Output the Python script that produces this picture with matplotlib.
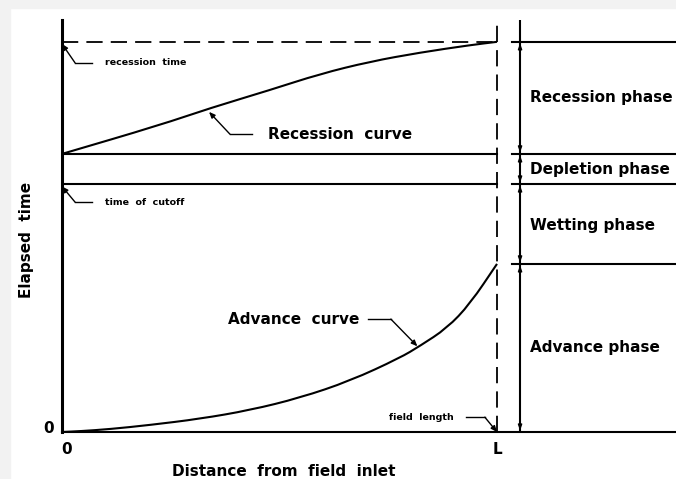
import matplotlib
matplotlib.use("Agg")
import matplotlib.pyplot as plt
from matplotlib.patches import Rectangle, PathPatch
from matplotlib.path import Path
from matplotlib.transforms import ScaledTranslation

# Distance along the field as a fraction of field length L, time in relative units (0-100)
advance_x = [0.0, 0.041, 0.110, 0.202, 0.317, 0.432, 0.547, 0.662, 0.777, 0.823,
             0.885, 0.938, 1.0]
advance_t = [0.0, 0.2, 0.7, 1.7, 3.2, 5.3, 8.3, 12.4, 18.0, 20.9, 25.2, 31.1, 40.8]

recession_x = [0.0, 0.225, 0.340, 0.478, 0.593, 0.708, 0.823, 0.938, 1.0]
recession_t = [67.5, 74.5, 78.6, 83.0, 86.9, 89.9, 92.1, 93.9, 94.7]

t_advance_end = 40.8
t_cutoff = 60.2
t_depletion = 67.5
t_recession = 94.7

phase_labels = ["Recession phase", "Depletion phase", "Wetting phase", "Advance phase"]
phase_text_t = [81.1, 63.6, 50.2, 20.4]
phase_bounds = [(t_depletion, t_recession), (t_cutoff, t_depletion),
                (t_advance_end, t_cutoff), (0.0, t_advance_end)]

x_ticks = [0.0, 1.0]
x_tick_labels = ["0", "L"]

W, H = 676, 479
fig = plt.figure(figsize=(W / 100, H / 100), dpi=100)
fig.patch.set_facecolor("white")
# pale frame strips along top and left
fig.patches.append(Rectangle((0, 1 - 8 / H), 1, 8 / H, transform=fig.transFigure,
                             color="#f2f2f2", zorder=0))
fig.patches.append(Rectangle((0, 0), 10 / W, 1, transform=fig.transFigure,
                             color="#f2f2f2", zorder=0))

x0, x1 = 62, 676
y0, y1 = 432, 20
ax = fig.add_axes([x0 / W, (H - y0) / H, (x1 - x0) / W, (y0 - y1) / H])
ax.patch.set_alpha(0)
xmax = (x1 - x0) / 435.0
ax.set_xlim(0, xmax)
ax.set_ylim(0, 100)
for s in ["top", "right"]:
    ax.spines[s].set_visible(False)
ax.spines["left"].set_linewidth(2.2)
ax.spines["bottom"].set_linewidth(1.5)
ax.tick_params(length=0, pad=7)
ax.set_xticks(x_ticks)
ax.set_xticklabels(x_tick_labels)
ax.set_yticks([0])
ax.set_yticklabels(["0"])
for lab in ax.get_xticklabels() + ax.get_yticklabels():
    lab.set_fontsize(11)
    lab.set_fontweight("bold")
xl0 = ax.get_xticklabels()[0]
xl0.set_transform(xl0.get_transform() + ScaledTranslation(5 / 100, 0, fig.dpi_scale_trans))
yl0 = ax.get_yticklabels()[0]
yl0.set_transform(yl0.get_transform() + ScaledTranslation(2 / 100, 5 / 100, fig.dpi_scale_trans))

lw = 1.5
k = "black"


def smooth_curve(xs, ys, **kw):
    """Draw a line through the points, rounding the corners with quadratic segments."""
    pts = list(zip(xs, ys))
    verts = [pts[0]]
    codes = [Path.MOVETO]
    mids = [((a[0] + b[0]) / 2, (a[1] + b[1]) / 2) for a, b in zip(pts[:-1], pts[1:])]
    verts.append(mids[0])
    codes.append(Path.LINETO)
    for i in range(1, len(pts) - 1):
        verts += [pts[i], mids[i]]
        codes += [Path.CURVE3, Path.CURVE3]
    verts.append(pts[-1])
    codes.append(Path.LINETO)
    ax.add_patch(PathPatch(Path(verts, codes), fill=False, **kw))


# curves
smooth_curve(advance_x, advance_t, edgecolor=k, lw=lw)
smooth_curve(recession_x, recession_t, edgecolor=k, lw=lw)

# horizontal reference lines in the field region
ax.plot([0, 1], [t_recession, t_recession], color=k, lw=1.3, ls=(0, (9, 4.5)))
ax.plot([0, 1], [t_depletion, t_depletion], color=k, lw=lw)
ax.plot([0, 1], [t_cutoff, t_cutoff], color=k, lw=lw)
# field end (dashed vertical)
ax.plot([1, 1], [0, 100], color=k, lw=1.3, ls=(0, (9, 4.5)))

# phase column on the right
xr = 1.053
xr0 = 1.034
ax.plot([xr, xr], [0, 100], color=k, lw=lw)
for t in [t_recession, t_depletion, t_cutoff, t_advance_end]:
    ax.plot([xr0, xmax], [t, t], color=k, lw=lw)
for (lo, hi) in phase_bounds:
    ax.annotate("", xy=(xr, hi - 0.3), xytext=(xr, lo + 0.3),
                arrowprops=dict(arrowstyle="<|-|>,head_length=0.35,head_width=0.12",
                                color=k, lw=0.9, shrinkA=0, shrinkB=0))
for lab, t in zip(phase_labels, phase_text_t):
    ax.text(1.076, t, lab, fontsize=11, fontweight="bold", va="center", ha="left")

big = dict(fontsize=11, fontweight="bold", va="center")
small = dict(fontsize=6.8, fontweight="bold", va="center")
arrow = dict(arrowstyle="-|>,head_length=0.35,head_width=0.15", color=k, lw=1.0,
             shrinkA=0, shrinkB=0)


def leader(text_xy, text, h_from, h_to, tip, style, ha="left"):
    ax.text(text_xy[0], text_xy[1], text, ha=ha, **style)
    ax.plot([h_from, h_to], [text_xy[1], text_xy[1]], color=k, lw=1.0)
    ax.annotate("", xy=tip, xytext=(h_from if tip[0] < h_from else h_to, text_xy[1]),
                arrowprops=arrow)


leader((0.099, 89.6), "recession  time", 0.030, 0.069, (0.0, 94.2), small)
leader((0.099, 55.8), "time  of  cutoff", 0.030, 0.069, (0.0, 59.6), small)
leader((0.474, 72.3), "Recession  curve", 0.386, 0.437, (0.338, 77.7), big)
leader((0.382, 27.4), "Advance  curve", 0.703, 0.756, (0.817, 20.8), big)
leader((0.900, 3.6), "field  length", 0.929, 0.972, (1.0, 0.0), small, ha="right")

fig.text(26 / W, 1 - 240 / H, "Elapsed  time", rotation=90, fontsize=11,
         fontweight="bold", ha="center", va="center")
fig.text(284 / W, 1 - 472 / H, "Distance  from  field  inlet", fontsize=11,
         fontweight="bold", ha="center", va="center")

fig.savefig("out.png", dpi=100)
